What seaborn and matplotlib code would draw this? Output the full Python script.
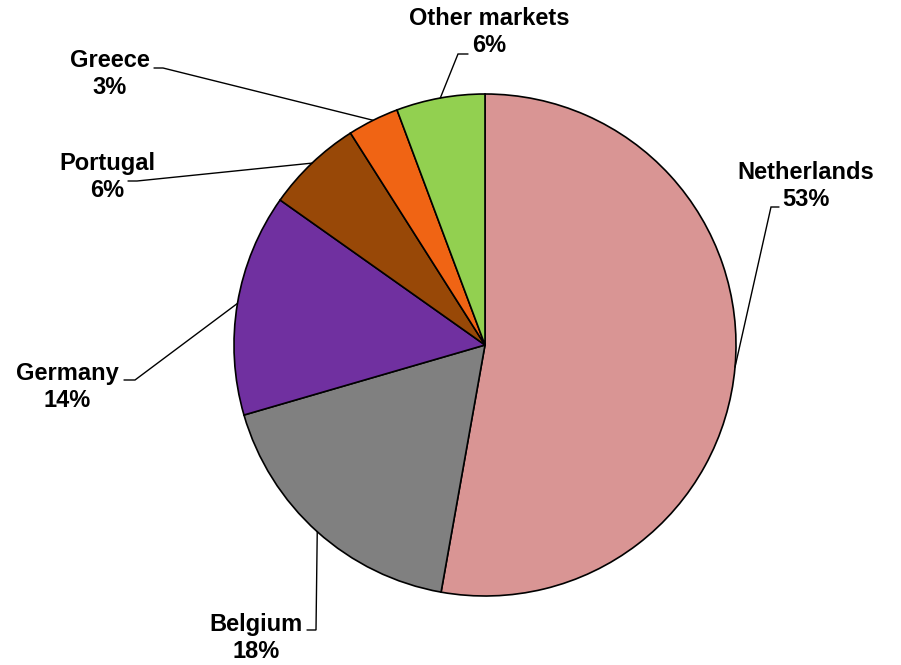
import numpy as np
import matplotlib
matplotlib.use("Agg")
import matplotlib.pyplot as plt
import seaborn as sns

# export share by market, %
markets = ["Netherlands", "Belgium", "Germany", "Portugal", "Greece", "Other markets"]
shares = [52.8, 17.7, 14.3, 6.2, 3.3, 5.7]
colors = ["#D99594", "#808080", "#7030A0", "#984807", "#F06414", "#92D050"]

# label layout in pixel coords (from top-left): text block centre, elbow, tail end x
text_pos = [(806, 186), (256, 638), (67, 387), (107, 177), (110, 74), (489, 32)]
elbows = [(771, 207), (316, 630), (135, 380), (137, 181), (163, 68), (458, 54)]
tails_x = [779, 307, 124, 128, 154, 468]

W, H = 901, 665
CENTER = (485, 345)
RADIUS = 251


def flip(p):
    return (p[0], H - p[1])


def main():
    sns.set_theme(style="white")
    plt.rcParams["font.family"] = ["Liberation Sans", "DejaVu Sans"]

    fig = plt.figure(figsize=(W / 100, H / 100), dpi=100)
    ax = fig.add_axes([0, 0, 1, 1])

    wedges, _ = ax.pie(
        shares,
        colors=colors,
        startangle=90,
        counterclock=False,
        center=flip(CENTER),
        radius=RADIUS,
        wedgeprops=dict(edgecolor="black", linewidth=1.2),
        frame=True,
    )
    ax.set_xlim(0, W)
    ax.set_ylim(0, H)
    ax.set_aspect("equal")
    ax.axis("off")

    cx, cy = flip(CENTER)
    for w, name, val, tp, el, tx in zip(wedges, markets, shares, text_pos, elbows, tails_x):
        mid = np.deg2rad((w.theta1 + w.theta2) / 2)
        ax_pt = (cx + RADIUS * np.cos(mid), cy + RADIUS * np.sin(mid))
        ex, ey = flip(el)
        ax.plot([ax_pt[0], ex, tx], [ax_pt[1], ey, ey], color="black", lw=1.0,
                solid_joinstyle="miter")
        ax.text(tp[0], H - tp[1], f"{name}\n{val:.0f}%", ha="center", va="center",
                fontsize=17, fontweight="bold", color="black", linespacing=1.2)

    fig.savefig("out.png", dpi=100)


if __name__ == "__main__":
    main()
